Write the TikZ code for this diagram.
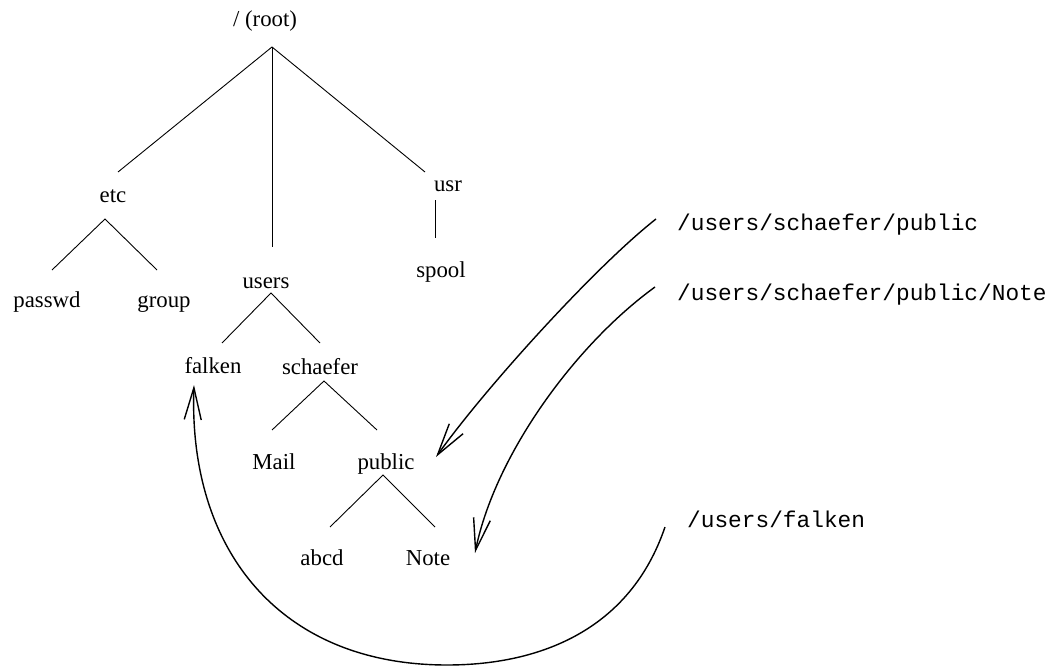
\documentclass[tikz,border=0pt]{standalone}
\usepackage{fontspec}
\setmainfont{Liberation Serif}
\setmonofont{Liberation Mono}
\usetikzlibrary{arrows.meta}
\begin{document}
\begin{tikzpicture}[x=1pt,y=-1pt,
  dir/.style={anchor=base,inner sep=0pt,font=\fontsize{22.8}{27}\selectfont},
  pathlbl/.style={anchor=base west,inner sep=0pt,font=\fontsize{22.8}{27}\selectfont\ttfamily},
  branch/.style={line width=0.9pt},
  ref/.style={line width=1.4pt,-{Straight Barb[length=32pt,width=17pt,line width=1.4pt]}}]
\useasboundingbox (0,0) rectangle (1050,666);
% directory nodes
\node[dir] (root) at (265,27) {/ (root)};
\node[dir] (etc) at (113,202) {etc};
\node[dir] (usr) at (448,191) {usr};
\node[dir] (users) at (266,288) {users};
\node[dir] (passwd) at (47,307) {passwd};
\node[dir] (group) at (164,307) {group};
\node[dir] (spool) at (441,277) {spool};
\node[dir] (falken) at (213,373) {falken};
\node[dir] (schaefer) at (320,374) {schaefer};
\node[dir] (mail) at (274,469) {Mail};
\node[dir] (public) at (386,469) {public};
\node[dir] (abcd) at (322,565) {abcd};
\node[dir] (note) at (428,565) {Note};
% path labels
\node[pathlbl] (p1) at (677,230) {/users/schaefer/public};
\node[pathlbl] (p2) at (677,300) {/users/schaefer/public/Note};
\node[pathlbl] (p3) at (687,527) {/users/falken};
% joints
\coordinate (rootJ) at (272,47);
\coordinate (etcT) at (118,172);
\coordinate (usersT) at (272,247);
\coordinate (usrT) at (425,172);
\coordinate (etcJ) at (105,219);
\coordinate (passwdT) at (52,270);
\coordinate (groupT) at (157,270);
\coordinate (usrJ) at (435,200);
\coordinate (spoolT) at (435,238);
\coordinate (usersJ) at (271,293);
\coordinate (falkenT) at (222,343);
\coordinate (schaeferT) at (320,343);
\coordinate (schaeferJ) at (324,381);
\coordinate (mailT) at (272,430);
\coordinate (publicT) at (377,430);
\coordinate (publicJ) at (383,475);
\coordinate (abcdT) at (330,527);
\coordinate (noteT) at (435,527);
% tree branches
\draw[branch] (etcT) -- (rootJ) -- (usrT);
\draw[branch] (rootJ) -- (usersT);
\draw[branch] (passwdT) -- (etcJ) -- (groupT);
\draw[branch] (usrJ) -- (spoolT);
\draw[branch] (falkenT) -- (usersJ) -- (schaeferT);
\draw[branch] (mailT) -- (schaeferJ) -- (publicT);
\draw[branch] (abcdT) -- (publicJ) -- (noteT);
% reference arrows
\coordinate (a1s) at (656,219);
\coordinate (a1e) at (436,457);
\coordinate (a2s) at (655,287);
\coordinate (a2e) at (475,553);
\coordinate (a3s) at (665,527);
\coordinate (a3b) at (447,665);
\coordinate (a3e) at (194,385);
\draw[ref] (a1s) .. controls (596,266) and (486,387) .. (a1e);
\draw[ref] (a2s) .. controls (575,345) and (495,455) .. (a2e);
\draw[ref] (a3s) .. controls (630,630) and (540,665) .. (a3b)
  .. controls (280,665) and (188,550) .. (a3e);
\end{tikzpicture}
\end{document}
